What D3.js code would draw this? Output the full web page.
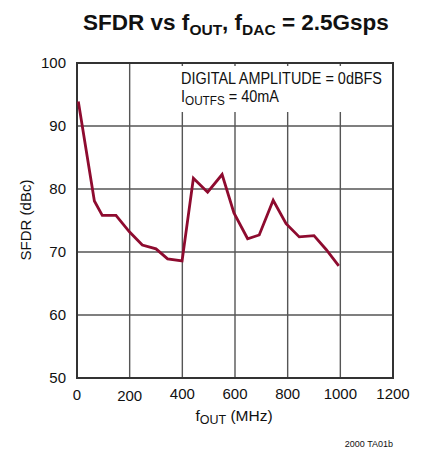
<!DOCTYPE html>
<html><head><meta charset="utf-8">
<script src="https://cdn.jsdelivr.net/npm/d3@7"></script>
<style>
body{margin:0;background:#fff;}
svg text{font-family:"Liberation Sans Narrow","Arial Narrow","Liberation Sans",sans-serif;fill:#111;}
</style></head>
<body><svg id="c" width="424" height="452"></svg>
<script>
const freqMHz = [5, 66, 96, 148, 199, 248, 300, 344, 399, 442, 496, 551, 596, 648, 692, 745, 794, 844, 900, 946, 994];
const sfdrDbc = [93.9, 78.1, 75.8, 75.8, 73.2, 71.1, 70.5, 68.9, 68.6, 81.7, 79.5, 82.3, 76.2, 72.1, 72.7, 78.2, 74.5, 72.4, 72.6, 70.4, 67.8];
const xTicks = [0, 200, 400, 600, 800, 1000, 1200];
const yTicks = [50, 60, 70, 80, 90, 100];

const svg = d3.select("#c");
const L = 77, R = 393, T = 63, B = 378;
const x = d3.scaleLinear().domain([0, 1200]).range([L, R]);
const y = d3.scaleLinear().domain([50, 100]).range([B, T]);

// grid
const g = svg.append("g");
g.selectAll(".vg").data(xTicks).join("line")
  .attr("x1", d => x(d)).attr("x2", d => x(d)).attr("y1", T).attr("y2", B)
  .attr("stroke", "#555").attr("stroke-width", 1.4);
g.selectAll(".hg").data(yTicks).join("line")
  .attr("x1", L).attr("x2", R).attr("y1", d => y(d)).attr("y2", d => y(d))
  .attr("stroke", "#555").attr("stroke-width", 1.4);

// annotation background
svg.append("rect").attr("x", 180).attr("y", 66).attr("width", 210).attr("height", 46).attr("fill", "#fff");

// frame
svg.append("rect").attr("x", L).attr("y", T).attr("width", R - L).attr("height", B - T)
  .attr("fill", "none").attr("stroke", "#333").attr("stroke-width", 2);

// line
svg.append("path").datum(freqMHz.map((f, i) => [f, sfdrDbc[i]]))
  .attr("d", d3.line().x(d => x(d[0])).y(d => y(d[1])))
  .attr("fill", "none").attr("stroke", "#8e0b2f").attr("stroke-width", 2.8)
  .attr("stroke-linejoin", "miter");

// axes labels
svg.selectAll(".yt").data(yTicks).join("text")
  .attr("x", 66).attr("y", d => y(d) + 5).attr("text-anchor", "end")
  .attr("font-size", 15).text(d => d);
svg.selectAll(".xt").data(xTicks).join("text")
  .attr("x", d => x(d)).attr("y", d => d === 0 ? 400 : (d === 200 ? 401 : 399)).attr("text-anchor", "middle")
  .attr("font-size", 15).text(d => d);

svg.append("text").attr("transform", "translate(31,220) rotate(-90)")
  .attr("text-anchor", "middle").attr("font-size", 15).text("SFDR (dBc)");

const xl = svg.append("text").attr("x", 234).attr("y", 421).attr("text-anchor", "middle").attr("font-size", 15.5);
xl.append("tspan").text("f");
xl.append("tspan").attr("font-size", 12.5).attr("dy", 3).text("OUT");
xl.append("tspan").attr("dy", -3).text(" (MHz)");

// annotation
svg.append("text").attr("x", 181).attr("y", 84).attr("font-size", 16)
  .attr("textLength", 201).attr("lengthAdjust", "spacingAndGlyphs").text("DIGITAL AMPLITUDE = 0dBFS");
const a2 = svg.append("text").attr("x", 181).attr("y", 102).attr("font-size", 16)
  .attr("textLength", 98).attr("lengthAdjust", "spacingAndGlyphs");
a2.append("tspan").text("I");
a2.append("tspan").attr("font-size", 13).attr("dy", 3).text("OUTFS");
a2.append("tspan").attr("dy", -3).text(" = 40mA");

// title
const t = svg.append("text").attr("x", 236).attr("y", 30).attr("text-anchor", "middle")
  .attr("font-size", 22.5).attr("font-weight", "bold");
t.append("tspan").text("SFDR vs f");
t.append("tspan").attr("font-size", 15.5).attr("dy", 5).text("OUT");
t.append("tspan").attr("dy", -5).text(", f");
t.append("tspan").attr("font-size", 15.5).attr("dy", 5).text("DAC");
t.append("tspan").attr("dy", -5).text(" = 2.5Gsps");

svg.append("text").attr("x", 393).attr("y", 447).attr("text-anchor", "end").attr("font-size", 9).text("2000 TA01b");
</script></body></html>
